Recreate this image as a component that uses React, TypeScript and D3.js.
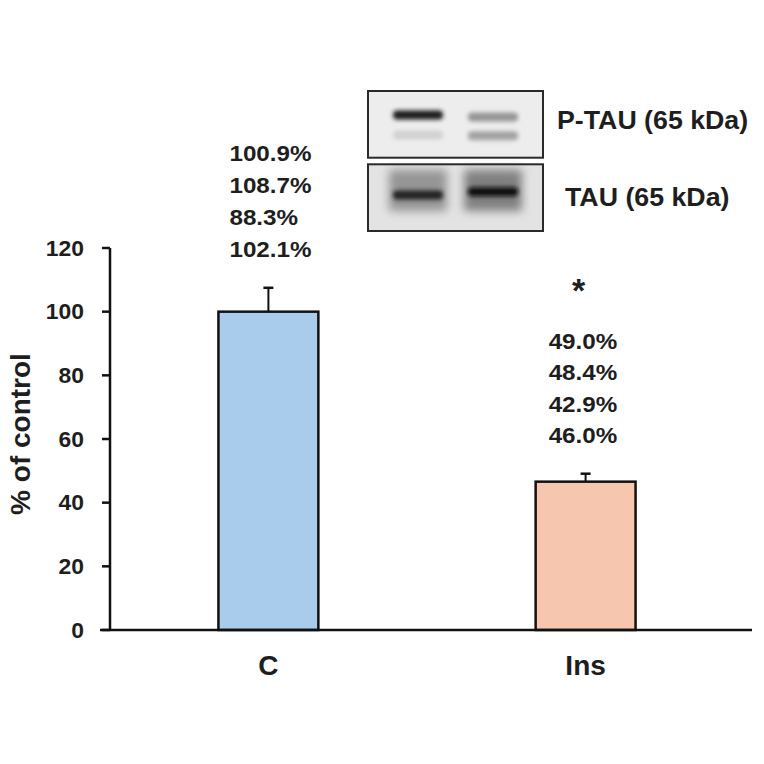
import React from 'react';
import * as d3 from 'd3';

const groups = ['C', 'Ins'];
const means = [100, 46.6];
const errors = [7.5, 2.5];
const replicates = [
    ['100.9%', '108.7%', '88.3%', '102.1%'],
    ['49.0%', '48.4%', '42.9%', '46.0%'],
];
const significance = ['', '*'];
const yTicks = [0, 20, 40, 60, 80, 100, 120];
const barColors = ['#a9cbec', '#f6c6ae'];

// western blot panels: one entry per lane, bands as [row offset 0..1, darkness 0..1]
const blotPanels = ['P-TAU (65 kDa)', 'TAU (65 kDa)'];
const pTauBands = [
    [[0.36, 0.95], [0.66, 0.1]],
    [[0.39, 0.38], [0.67, 0.32]],
];
const tauBands = [
    [[0.46, 0.92]],
    [[0.41, 1.0]],
];
const tauSmear = [0.38, 0.48];

const FONT = 'Arial, "Liberation Sans", sans-serif';
const W = 764, H = 764;
const PLOT = { LEFT: 110, RIGHT: 746, TOP: 248, BOTTOM: 630 };

// text that is slightly wider than the font (the source figure was stretched)
const Label = (props: { x: number, y: number, size: number, stretch?: number, anchor?: string, rotate?: number, children: React.ReactNode }) => {
    const { x, y, size, stretch = 1, anchor = 'start', rotate = 0, children } = props;
    return (
        <text transform={`translate(${x},${y}) rotate(${rotate}) scale(${stretch},1)`} dy='0.35em'
            textAnchor={anchor} fontFamily={FONT} fontWeight='bold' fontSize={size} fill='#1e1e1e'>{children}</text>
    );
}

export default function App() {
    const y = d3.scaleLinear().domain([0, 120]).range([PLOT.BOTTOM, PLOT.TOP]);
    const x = d3.scaleBand<string>().domain(groups).range([PLOT.LEFT - 1, PLOT.RIGHT - 1])
        .paddingInner(0.685).paddingOuter(0.345);

    const lane = d3.scaleBand<string>().domain(groups).range([368, 543])
        .paddingInner(0.333).paddingOuter(0.333);
    const panelY = d3.scaleBand<string>().domain(blotPanels).range([91, 231]).paddingInner(0.09);
    const grey = d3.scaleLinear<string>().domain([0, 1]).range(['#e6e6e6', '#111111']);

    const repStart = [153, 341];
    const repStep = [32, 31.5];
    const repIndent = [11, 13];

    return (
        <svg width={W} height={H} style={{ position: 'absolute', left: 0, top: 0, background: '#fff' }}>
            <defs>
                <filter id='blur-band' x='-30%' y='-100%' width='160%' height='300%'>
                    <feGaussianBlur stdDeviation='2.2 2' />
                </filter>
                <filter id='blur-smear' x='-30%' y='-50%' width='160%' height='200%'>
                    <feGaussianBlur stdDeviation='5' />
                </filter>
            </defs>

            {/* blot */}
            {blotPanels.map((p, pi) => {
                const top = panelY(p) as number, h = panelY.bandwidth();
                const bands = pi === 0 ? pTauBands : tauBands;
                return (
                    <g key={p}>
                        <rect x={368} y={top} width={175} height={h} fill={pi === 0 ? '#ededed' : '#e3e3e3'} />
                        {pi === 1 && groups.map((g, gi) => (
                            <rect key={`sm-${g}`} x={(lane(g) as number) - 4} y={top + h * 0.08}
                                width={lane.bandwidth() + 8} height={h * 0.62}
                                fill={grey(tauSmear[gi])} filter='url(#blur-smear)' />
                        ))}
                        {groups.map((g, gi) => bands[gi].map(([r, d], bi) => (
                            <rect key={`b-${g}-${bi}`} x={(lane(g) as number)} y={top + h * r - 4.5}
                                width={lane.bandwidth()} height={9} rx={4}
                                fill={grey(d)} filter='url(#blur-band)' />
                        )))}
                        <rect x={368} y={top} width={175} height={h} fill='none' stroke='#2a2a2a' strokeWidth={2} />
                        <Label x={pi === 0 ? 557 : 565} y={top + h / 2 - 4 * (1 - pi)} size={25} stretch={1.07}>{p}</Label>
                    </g>
                );
            })}

            {/* y axis */}
            <line x1={PLOT.LEFT} x2={PLOT.LEFT} y1={y(120)} y2={y(0)} stroke='#111' strokeWidth={2.5} />
            {yTicks.map(t => (
                <g key={t}>
                    <line x1={PLOT.LEFT - 8} x2={PLOT.LEFT} y1={y(t)} y2={y(t)} stroke='#111' strokeWidth={2.5} />
                    <Label x={84} y={y(t)} size={22} stretch={1.04} anchor='end'>{t}</Label>
                </g>
            ))}
            <Label x={20} y={(y(0) + y(120)) / 2 - 5} size={28} rotate={-90} anchor='middle'>% of control</Label>

            {/* bars */}
            {groups.map((g, i) => {
                const cx = (x(g) as number) + x.bandwidth() / 2;
                return (
                    <g key={g}>
                        <line x1={cx} x2={cx} y1={y(means[i])} y2={y(means[i] + errors[i])} stroke='#111' strokeWidth={2} />
                        <line x1={cx - 5} x2={cx + 5} y1={y(means[i] + errors[i])} y2={y(means[i] + errors[i])} stroke='#111' strokeWidth={2.5} />
                        <rect x={x(g)} y={y(means[i])} width={x.bandwidth()} height={y(0) - y(means[i])}
                            fill={barColors[i]} stroke='#111' strokeWidth={2.5} />
                        <Label x={cx} y={665} size={28} anchor='middle'>{g}</Label>
                    </g>
                );
            })}

            {/* x axis */}
            <line x1={100} x2={752} y1={y(0)} y2={y(0)} stroke='#111' strokeWidth={2.5} />

            {/* replicate values */}
            {groups.map((g, i) => (
                <g key={`rep-${g}`}>
                    {replicates[i].map((r, j) => (
                        <Label key={j} x={(x(g) as number) + repIndent[i]} y={repStart[i] + j * repStep[i]}
                            size={22} stretch={1.1}>{r}</Label>
                    ))}
                    {significance[i] && (
                        <Label x={(x(g) as number) + x.bandwidth() / 2 - 7} y={290} size={34} anchor='middle'>{significance[i]}</Label>
                    )}
                </g>
            ))}
        </svg>
    );
}
